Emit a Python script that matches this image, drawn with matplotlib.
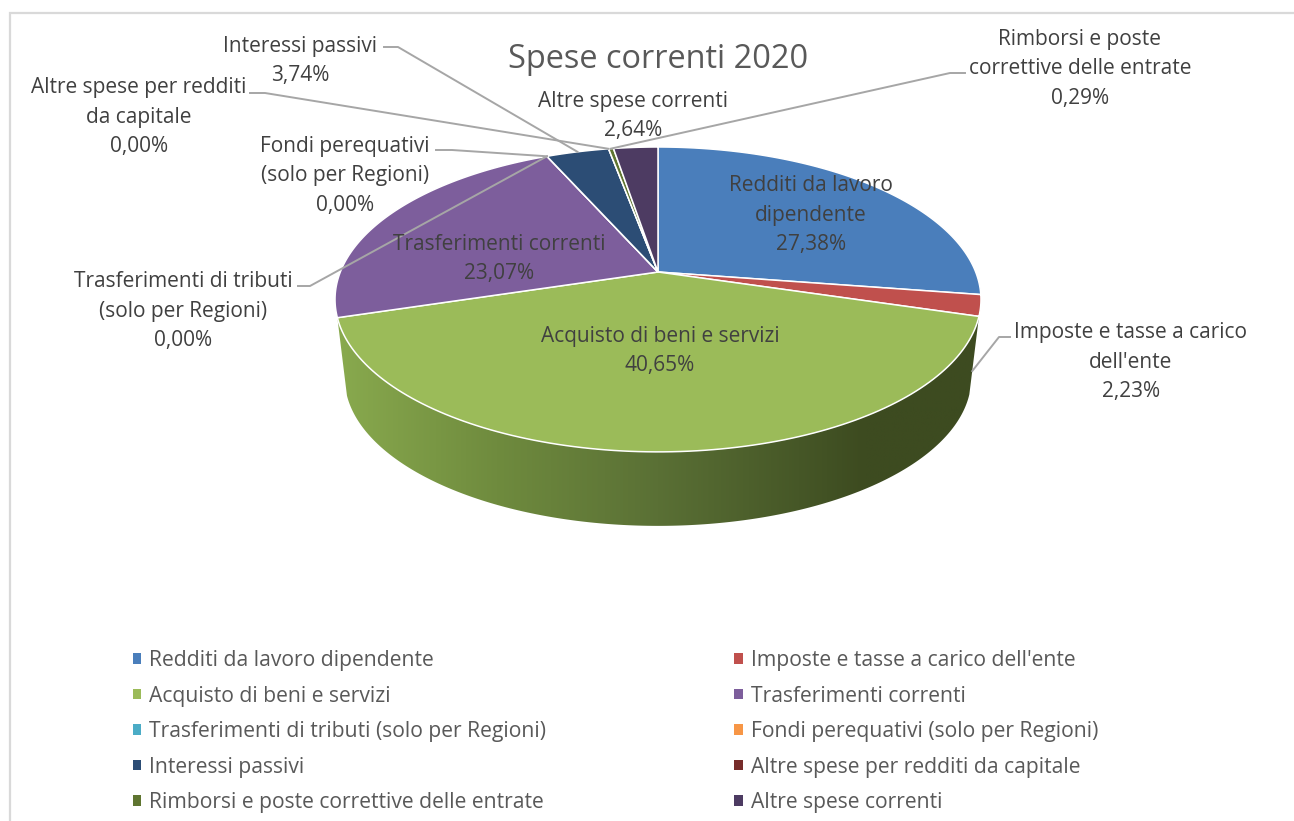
import numpy as np
import matplotlib
matplotlib.use("Agg")
import matplotlib.pyplot as plt
from matplotlib.colors import LinearSegmentedColormap
from matplotlib.patches import Polygon, Rectangle

plt.rcParams["font.family"] = ["Open Sans", "DejaVu Sans"]

TITLE = "Spese correnti 2020"
CATEGORIES = [
    "Redditi da lavoro dipendente",
    "Imposte e tasse a carico dell'ente",
    "Acquisto di beni e servizi",
    "Trasferimenti correnti",
    "Trasferimenti di tributi (solo per Regioni)",
    "Fondi perequativi (solo per Regioni)",
    "Interessi passivi",
    "Altre spese per redditi da capitale",
    "Rimborsi e poste correttive delle entrate",
    "Altre spese correnti",
]
VALUES = [27.38, 2.23, 40.65, 23.07, 0.00, 0.00, 3.74, 0.00, 0.29, 2.64]
COLORS = ["#4a7ebb", "#c0504d", "#9bbb59", "#7d5e9c", "#4bacc6",
          "#f79646", "#2c4d75", "#772c2a", "#5f7530", "#4d3b62"]

# wrapped label text, centre of the text block in pixels
LABEL_TEXT = [
    "Redditi da lavoro\ndipendente",
    "Imposte e tasse a carico\ndell'ente",
    "Acquisto di beni e servizi",
    "Trasferimenti correnti",
    "Trasferimenti di tributi\n(solo per Regioni)",
    "Fondi perequativi\n(solo per Regioni)",
    "Interessi passivi",
    "Altre spese per redditi\nda capitale",
    "Rimborsi e poste\ncorrettive delle entrate",
    "Altre spese correnti",
]
LABEL_POS = [(811, 215), (1131, 362), (660, 351), (499, 259), (183, 311),
             (345, 176), (300, 61), (139, 117), (1080, 69), (633, 116)]

# leader line: start and elbow in pixels, None = no leader
LEADER_ELBOW = {
    1: [(1010, 337), (999, 337)],
    4: [(298, 286), (310, 286)],
    5: [(436, 150), (452, 150)],
    6: [(384, 47), (398, 47)],
    7: [(250, 93), (265, 93)],
    8: [(965, 73), (950, 73)],
}

WALL_STOPS = [(0.0, "#89aa4e"), (0.25, "#6f8b3e"), (0.5, "#5a7035"),
              (0.72, "#465727"), (0.82, "#3d4b20"), (1.0, "#3d4b20")]

CX, CY = 658, 272
RX, RY, KP = 317.7, 147.5, 0.18
DROP, SHRINK = 79.4, 0.97
X_LEFT, X_RIGHT = 335, 981


def project(pct, level=0.0):
    # pct is clockwise from 12 o'clock, level 0 = top face, 1 = bottom of the wall
    theta = np.radians(np.asarray(pct) * 3.6)
    u, v = np.sin(theta), -np.cos(theta)
    scale = 1 + (SHRINK - 1) * level
    x = CX + scale * RX * u / (1 - KP * v)
    y = CY + DROP * level + scale * RY * v / (1 - KP * v)
    return x, y


fig = plt.figure(figsize=(12.94, 8.21), dpi=100, facecolor="white")
ax = fig.add_axes([0, 0, 1, 1])
ax.set_xlim(0, 1294)
ax.set_ylim(821, 0)
ax.axis("off")

# chart frame, runs off the picture on the right and at the bottom
ax.plot([10, 10, 1294], [821, 13, 13], color="#d9d9d9", lw=1.6, solid_joinstyle="miter")

edges = np.concatenate([[0], np.cumsum(VALUES)])

# side wall of the big front slice, with the horizontal shading
start, stop = edges[2], edges[3]
arc = np.linspace(start, stop, 200)
tx, ty = project(arc)
bx, by = project(arc[::-1], 1.0)
wall = Polygon(np.column_stack([np.r_[tx, bx], np.r_[ty, by]]), closed=True,
               facecolor="none", edgecolor="none")
ax.add_patch(wall)
wall_cmap = LinearSegmentedColormap.from_list("wall", WALL_STOPS)
img = ax.imshow(np.linspace(0, 1, 512).reshape(1, -1), cmap=wall_cmap, aspect="auto",
                extent=(X_LEFT, X_RIGHT, 540, 280), zorder=1)
img.set_clip_path(wall)
ax.set_xlim(0, 1294)
ax.set_ylim(821, 0)

# top face
for i, color in enumerate(COLORS):
    arc = np.linspace(edges[i], edges[i + 1], 120)
    x, y = project(arc)
    ax.add_patch(Polygon(np.column_stack([np.r_[CX, x], np.r_[CY, y]]), closed=True,
                         facecolor=color, edgecolor="white", lw=1.1,
                         joinstyle="round", zorder=2))

# leader lines
for i, elbow in LEADER_ELBOW.items():
    if i == 1:
        end = project(edges[2], 0.7)
    else:
        end = project((edges[i] + edges[i + 1]) / 2)
    xs = [p[0] for p in elbow] + [float(end[0])]
    ys = [p[1] for p in elbow] + [float(end[1])]
    ax.plot(xs, ys, color="#a6a6a6", lw=1.4, zorder=3)

# data labels
for text, value, (lx, ly) in zip(LABEL_TEXT, VALUES, LABEL_POS):
    pct = f"{value:.2f}".replace(".", ",") + "%"
    ax.text(lx, ly, f"{text}\n{pct}", ha="center", va="center", fontsize=15,
            color="#404040", linespacing=1.52, zorder=4)

ax.text(658, 59, TITLE, ha="center", va="center", fontsize=23.4, color="#595959", zorder=4)

# legend is filled column by column, the picture reads row by row
handles = [Rectangle((0, 0), 1, 1, facecolor=c, edgecolor="none") for c in COLORS]
order = list(range(0, 10, 2)) + list(range(1, 10, 2))
ax.legend([handles[i] for i in order], [CATEGORIES[i] for i in order], ncol=2,
          loc="upper left", bbox_to_anchor=(133, 650), bbox_transform=ax.transData,
          frameon=False, fontsize=15.2, labelcolor="#595959", handlelength=0.4,
          handleheight=0.4, handletextpad=0.38, columnspacing=8.9, labelspacing=0.69,
          borderpad=0, borderaxespad=0)

fig.savefig("out.png", dpi=100, facecolor="white")
